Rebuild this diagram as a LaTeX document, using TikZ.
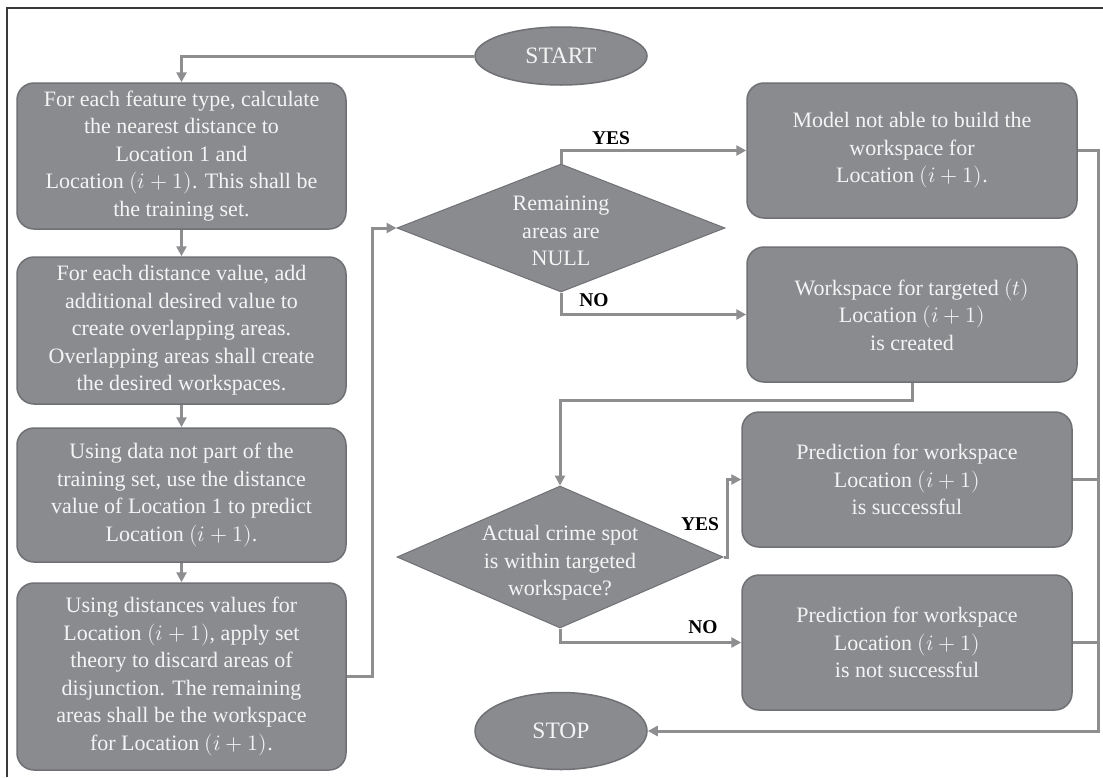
\documentclass[tikz,border=0pt]{standalone}
\usepackage{fontspec}
\usepackage{unicode-math}
\setmainfont{Liberation Serif}
\setmathfont{Latin Modern Math}
\usetikzlibrary{shapes.geometric,arrows.meta}
\definecolor{boxfill}{HTML}{8A8B8F}
\definecolor{boxline}{HTML}{707175}
\definecolor{connc}{HTML}{8E8E91}
\definecolor{txtc}{HTML}{F4F4F4}
\definecolor{framec}{HTML}{3A3A3A}
\begin{document}
\begin{tikzpicture}[x=1pt,y=-1pt,
  stepbox/.style={draw=boxline, line width=1.5pt, fill=boxfill, rounded corners=17pt,
    text=txtc, align=center, font=\fontsize{22}{27.5}\selectfont, inner sep=0pt},
  term/.style={ellipse, draw=boxline, line width=1.5pt, fill=boxfill, text=txtc,
    font=\fontsize{23.5}{28}\selectfont, minimum width=172pt, inner sep=0pt},
  dia/.style={diamond, draw=boxline, line width=1pt, fill=boxfill, inner sep=0pt},
  diatext/.style={text=txtc, align=center, font=\fontsize{22}{27.5}\selectfont, inner sep=0pt},
  conn/.style={draw=connc, line width=3pt},
  arr/.style={conn, -{Triangle[length=10pt,width=10pt]}},
  lab/.style={font=\bfseries\fontsize{19.5}{22}\selectfont, text=black, inner sep=0pt}]
\useasboundingbox (0,0) rectangle (1103,777);
\fill[white] (0,0) rectangle (1103,777);
\draw[framec, line width=1.5pt] (7,777) -- (7,8) -- (1103,8);

% terminals
\node[term, minimum height=58pt] (start) at (561,56) {START};
\node[term, minimum height=77pt] (stop) at (561,731) {STOP};

% left column
\node[stepbox, minimum width=329pt, minimum height=146pt] (b1) at (181.5,156) {For each feature type, calculate\\the nearest distance to\\Location 1 and\\Location $(i+1)$. This shall be\\the training set.};
\node[stepbox, minimum width=329pt, minimum height=147pt] (b2) at (181.5,330.5) {For each distance value, add\\additional desired value to\\create overlapping areas.\\Overlapping areas shall create\\the desired workspaces.};
\node[stepbox, minimum width=329pt, minimum height=134pt] (b3) at (181.5,495) {Using data not part of the\\training set, use the distance\\value of Location 1 to predict\\Location $(i+1)$.};
\node[stepbox, minimum width=329pt, minimum height=187pt] (b4) at (181.5,676.5) {Using distances values for\\Location $(i+1)$, apply set\\theory to discard areas of\\disjunction. The remaining\\areas shall be the workspace\\for Location $(i+1)$.};

% diamonds
\node[dia, minimum width=328pt, minimum height=128pt] (d1) at (561,228) {};
\node[diatext] (d1t) at (561,231) {Remaining\\areas are\\NULL};
\node[dia, minimum width=326pt, minimum height=142pt] (d2) at (560,557) {};
\node[diatext] (d2t) at (560,563) {Actual crime spot\\is within targeted\\workspace?};

% right column
\node[stepbox, minimum width=330pt, minimum height=135pt] (r1) at (912,150.5) {Model not able to build the\\workspace for\\Location $(i+1)$.};
\node[stepbox, minimum width=330pt, minimum height=135pt] (r2) at (912,314.5) {Workspace for targeted $(t)$\\Location $(i+1)$\\is created};
\node[stepbox, minimum width=330pt, minimum height=135pt] (r3) at (907,479.5) {Prediction for workspace\\Location $(i+1)$\\is successful};
\node[stepbox, minimum width=330pt, minimum height=135pt] (r4) at (907,642.5) {Prediction for workspace\\Location $(i+1)$\\is not successful};

% labels
\node[lab] (yes1) at (611,138) {YES};
\node[lab] (no1) at (594,300) {NO};
\node[lab] (yes2) at (700,524) {YES};
\node[lab] (no2) at (703,627) {NO};

% connectors
\draw[arr] (start.west) -| (b1.north);
\draw[arr] (b1.south) -- (b2.north);
\draw[arr] (b2.south) -- (b3.north);
\draw[arr] (b3.south) -- (b4.north);
\draw[arr] (b4.east) -- ++(26,0) |- (d1.west);
\draw[arr] (d1.north) |- (r1.west);
\draw[arr] (d1.south) |- (r2.west);
\draw[arr] (r2.south) -- ++(0,18) -| (d2.north);
\draw[arr] (d2.east) -- ++(4,0) |- (r3.west);
\draw[arr] (d2.south) |- (r4.west);

\coordinate (rt) at (1098,150.5);
\coordinate (rb) at (1098,731);
\draw[arr] (r1.east) -- (rt) -- (rb) -- (stop.east);
\draw[conn] (r3.east) -- (r3.east -| rt);
\draw[conn] (r4.east) -- (r4.east -| rt);
\end{tikzpicture}
\end{document}
